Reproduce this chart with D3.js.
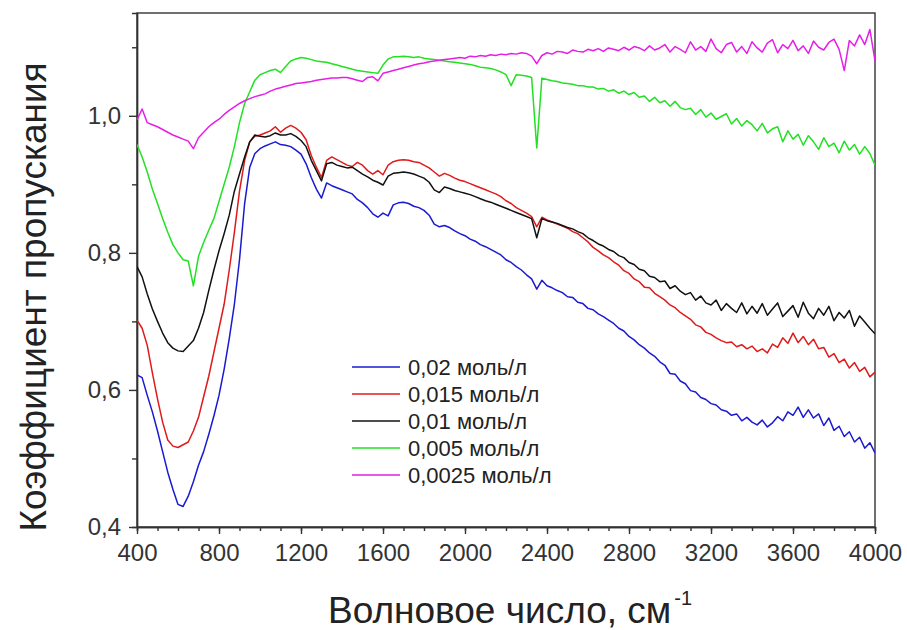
<!DOCTYPE html>
<html>
<head>
<meta charset="utf-8">
<script src="https://cdn.jsdelivr.net/npm/d3@7"></script>
<style>
  body { margin: 0; background: #fff; }
  svg text { font-family: "Liberation Sans", Arial, sans-serif; fill: #222; }
  .axis path, .axis line { stroke: #333; stroke-width: 1.4px; }
  .axis text { font-size: 24px; fill: #333; }
  .frame { fill: none; stroke: #333; stroke-width: 1.4px; }
  .spectrum { fill: none; stroke-width: 1.5px; stroke-linejoin: round; }
</style>
</head>
<body>
<div id="chart"></div>
<script>
// wavenumber grid, cm-1 (every 25 from 400 to 4000)
const wavenumbers = d3.range(400, 4001, 25);

const seriesLabels = ['0,02 моль/л', '0,015 моль/л', '0,01 моль/л', '0,005 моль/л', '0,0025 моль/л'];
const seriesColors = ['#1a1ad0', '#e01a1a', '#111111', '#22e022', '#e61ee6'];

// transmittance values
const conc002 = [
  0.622,0.618,0.592,0.568,0.540,0.510,0.480,0.455,0.433,0.430,0.445,0.466,0.490,0.510,0.535,0.562,0.592,0.630,0.675,0.725,
  0.790,0.872,0.925,0.945,0.952,0.956,0.959,0.962,0.958,0.957,0.955,0.950,0.944,0.930,0.910,0.893,0.880,0.902,0.898,0.895,
  0.892,0.889,0.886,0.878,0.873,0.866,0.857,0.852,0.858,0.854,0.870,0.873,0.874,0.872,0.868,0.866,0.862,0.855,0.842,0.838,
  0.840,0.837,0.832,0.828,0.825,0.820,0.817,0.812,0.809,0.805,0.801,0.797,0.790,0.786,0.780,0.775,0.768,0.762,0.747,0.760,
  0.752,0.749,0.745,0.742,0.736,0.735,0.728,0.726,0.719,0.717,0.711,0.707,0.702,0.697,0.690,0.686,0.678,0.673,0.666,0.661,
  0.654,0.649,0.641,0.636,0.624,0.623,0.613,0.609,0.599,0.597,0.589,0.586,0.580,0.578,0.571,0.569,0.563,0.565,0.555,0.560,
  0.553,0.549,0.556,0.546,0.552,0.561,0.555,0.568,0.563,0.575,0.560,0.571,0.559,0.565,0.548,0.559,0.541,0.547,0.532,0.539,
  0.524,0.531,0.515,0.523,0.508
];
const conc0015 = [
  0.702,0.690,0.665,0.625,0.587,0.553,0.527,0.518,0.516,0.520,0.524,0.540,0.560,0.590,0.620,0.655,0.690,0.725,0.775,0.830,
  0.890,0.935,0.962,0.970,0.972,0.975,0.978,0.984,0.976,0.982,0.986,0.982,0.976,0.965,0.942,0.925,0.910,0.935,0.940,0.936,
  0.932,0.928,0.926,0.932,0.928,0.920,0.915,0.920,0.914,0.928,0.933,0.935,0.936,0.935,0.933,0.932,0.928,0.924,0.918,0.912,
  0.916,0.913,0.909,0.906,0.904,0.901,0.898,0.895,0.892,0.889,0.886,0.882,0.876,0.872,0.866,0.862,0.858,0.853,0.838,0.852,
  0.848,0.845,0.842,0.839,0.836,0.831,0.828,0.822,0.816,0.808,0.803,0.797,0.793,0.787,0.782,0.774,0.770,0.762,0.758,0.750,
  0.749,0.741,0.736,0.731,0.724,0.720,0.713,0.708,0.703,0.695,0.692,0.684,0.681,0.676,0.672,0.669,0.670,0.663,0.666,0.660,
  0.664,0.656,0.660,0.654,0.667,0.662,0.676,0.668,0.683,0.669,0.678,0.666,0.674,0.660,0.662,0.648,0.653,0.640,0.645,0.632,
  0.640,0.627,0.633,0.619,0.626
];
const conc001 = [
  0.780,0.765,0.740,0.718,0.700,0.683,0.669,0.661,0.657,0.656,0.664,0.672,0.690,0.713,0.745,0.775,0.803,0.828,0.855,0.890,
  0.915,0.940,0.962,0.972,0.970,0.969,0.971,0.975,0.972,0.972,0.974,0.970,0.964,0.955,0.935,0.920,0.905,0.930,0.932,0.928,
  0.926,0.924,0.925,0.920,0.915,0.911,0.906,0.903,0.899,0.912,0.916,0.917,0.918,0.917,0.915,0.912,0.909,0.903,0.892,0.888,
  0.896,0.894,0.891,0.889,0.887,0.885,0.882,0.879,0.876,0.874,0.871,0.868,0.865,0.862,0.859,0.856,0.853,0.850,0.822,0.850,
  0.847,0.845,0.843,0.840,0.837,0.835,0.831,0.828,0.822,0.818,0.813,0.810,0.805,0.802,0.796,0.793,0.786,0.783,0.776,0.774,
  0.766,0.764,0.758,0.759,0.748,0.752,0.744,0.739,0.742,0.731,0.737,0.727,0.724,0.731,0.716,0.726,0.719,0.713,0.727,0.711,
  0.722,0.712,0.726,0.709,0.718,0.727,0.707,0.715,0.723,0.706,0.728,0.712,0.704,0.719,0.709,0.722,0.701,0.713,0.705,0.716,
  0.693,0.708,0.699,0.690,0.682
];
const conc0005 = [
  0.958,0.940,0.918,0.893,0.872,0.850,0.830,0.812,0.800,0.790,0.788,0.752,0.795,0.815,0.833,0.850,0.875,0.900,0.925,0.955,
  0.990,1.018,1.035,1.052,1.060,1.063,1.066,1.068,1.063,1.072,1.080,1.083,1.085,1.084,1.082,1.080,1.079,1.078,1.076,1.074,
  1.072,1.070,1.068,1.066,1.065,1.064,1.063,1.062,1.074,1.083,1.086,1.086,1.087,1.086,1.085,1.086,1.084,1.083,1.082,1.081,
  1.080,1.079,1.078,1.077,1.076,1.075,1.073,1.071,1.070,1.069,1.067,1.064,1.060,1.044,1.060,1.059,1.058,1.056,0.953,1.055,
  1.053,1.051,1.050,1.048,1.047,1.046,1.044,1.044,1.042,1.042,1.039,1.040,1.036,1.038,1.033,1.036,1.031,1.034,1.027,1.029,
  1.021,1.027,1.019,1.022,1.014,1.021,1.012,1.009,1.011,1.002,1.009,0.998,1.004,0.995,0.999,1.003,0.988,0.996,0.985,0.993,
  0.987,0.978,0.989,0.975,0.981,0.984,0.962,0.978,0.966,0.973,0.957,0.971,0.962,0.951,0.968,0.955,0.960,0.946,0.963,0.950,
  0.958,0.944,0.955,0.945,0.928
];
const conc00025 = [
  0.994,1.010,0.990,0.987,0.984,0.980,0.976,0.972,0.969,0.966,0.963,0.952,0.968,0.976,0.984,0.990,0.995,1.002,1.008,1.013,
  1.018,1.022,1.025,1.028,1.030,1.032,1.036,1.039,1.041,1.043,1.045,1.047,1.048,1.049,1.050,1.052,1.053,1.054,1.055,1.055,
  1.056,1.056,1.054,1.052,1.050,1.056,1.057,1.051,1.062,1.064,1.066,1.068,1.070,1.072,1.074,1.076,1.077,1.079,1.080,1.081,
  1.082,1.083,1.084,1.085,1.084,1.087,1.086,1.088,1.087,1.089,1.088,1.090,1.089,1.091,1.090,1.092,1.091,1.087,1.076,1.088,
  1.092,1.090,1.094,1.093,1.091,1.096,1.094,1.093,1.097,1.095,1.098,1.094,1.099,1.097,1.095,1.100,1.096,1.101,1.099,1.095,
  1.102,1.096,1.099,1.104,1.093,1.101,1.097,1.092,1.108,1.096,1.101,1.094,1.112,1.098,1.092,1.104,1.107,1.093,1.101,1.091,
  1.108,1.099,1.093,1.106,1.111,1.092,1.104,1.098,1.110,1.095,1.102,1.091,1.109,1.100,1.096,1.107,1.112,1.097,1.066,1.110,
  1.102,1.118,1.104,1.126,1.080
];

const xMajorTicks = [400, 800, 1200, 1600, 2000, 2400, 2800, 3200, 3600, 4000];
const xMinorTicks = d3.range(400, 4001, 100);
const yMajorTicks = [0.4, 0.6, 0.8, 1.0];
const yMinorTicks = [0.5, 0.7, 0.9, 1.1];

class SpectrumChart {

  constructor(_config, _series) {
    this.config = {
      parentElement: _config.parentElement,
      containerWidth: _config.containerWidth || 907,
      containerHeight: _config.containerHeight || 630,
      margin: _config.margin || {top: 13, right: 32, bottom: 103, left: 137},
      legendLeft: 352,
      legendTop: 367,
      legendRowHeight: 27
    }
    this.series = _series;
    this.initVis();
  }

  initVis() {
    let vis = this;

    vis.width = vis.config.containerWidth - vis.config.margin.left - vis.config.margin.right;
    vis.height = vis.config.containerHeight - vis.config.margin.top - vis.config.margin.bottom;

    vis.svg = d3.select(vis.config.parentElement).append('svg')
        .attr('width', vis.config.containerWidth)
        .attr('height', vis.config.containerHeight);

    vis.chart = vis.svg.append('g')
        .attr('transform', `translate(${vis.config.margin.left},${vis.config.margin.top})`);

    vis.xScale = d3.scaleLinear()
        .domain([400, 4000])
        .range([0, vis.width]);

    vis.yScale = d3.scaleLinear()
        .domain([0.4, 1.15])
        .range([vis.height, 0]);

    const comma = d => d3.format('.1f')(d).replace('.', ',');

    // minor ticks first, then the major ones on top
    vis.chart.append('g')
        .attr('class', 'axis')
        .attr('transform', `translate(0,${vis.height})`)
        .call(d3.axisBottom(vis.xScale).tickValues(xMinorTicks).tickSize(4).tickFormat(''));

    vis.chart.append('g')
        .attr('class', 'axis')
        .attr('transform', `translate(0,${vis.height})`)
        .call(d3.axisBottom(vis.xScale).tickValues(xMajorTicks).tickSize(7).tickPadding(10)
          .tickFormat(d3.format('d')).tickSizeOuter(0));

    vis.chart.append('g')
        .attr('class', 'axis')
        .call(d3.axisLeft(vis.yScale).tickValues(yMinorTicks).tickSize(5).tickFormat(''));

    vis.chart.append('g')
        .attr('class', 'axis')
        .call(d3.axisLeft(vis.yScale).tickValues(yMajorTicks).tickSize(8).tickPadding(8)
          .tickFormat(comma).tickSizeOuter(0));

    vis.chart.append('rect')
        .attr('class', 'frame')
        .attr('width', vis.width)
        .attr('height', vis.height);

    vis.line = d3.line()
        .x((d, i) => vis.xScale(wavenumbers[i]))
        .y(d => vis.yScale(d));

    vis.chart.append('defs').append('clipPath')
        .attr('id', 'plot-clip')
      .append('rect')
        .attr('width', vis.width)
        .attr('height', vis.height);

    vis.chart.append('g')
        .attr('clip-path', 'url(#plot-clip)')
      .selectAll('path')
        .data(vis.series)
        .join('path')
        .attr('class', 'spectrum')
        .attr('stroke', d => d.color)
        .attr('d', d => vis.line(d.values));

    // legend
    const legend = vis.svg.append('g')
        .attr('transform', `translate(${vis.config.legendLeft},${vis.config.legendTop})`);

    const rows = legend.selectAll('g')
        .data(vis.series)
        .join('g')
        .attr('transform', (d, i) => `translate(0,${i * vis.config.legendRowHeight})`);

    rows.append('line')
        .attr('x2', 48)
        .attr('stroke', d => d.color)
        .attr('stroke-width', 1.5);

    rows.append('text')
        .attr('x', 56)
        .attr('dy', '0.35em')
        .style('font-size', '22px')
        .text(d => d.label);

    // axis titles
    const xTitle = vis.svg.append('text')
        .attr('x', 328)
        .attr('y', 623)
        .style('font-size', '37px');
    xTitle.append('tspan').text('Волновое число, см');
    xTitle.append('tspan')
        .attr('dy', -18)
        .attr('dx', 3)
        .style('font-size', '20px')
        .text('-1');

    vis.svg.append('text')
        .attr('transform', `translate(46,297) rotate(-90)`)
        .attr('text-anchor', 'middle')
        .style('font-size', '37px')
        .text('Коэффициент пропускания');
  }
}

const series = [conc002, conc0015, conc001, conc0005, conc00025].map((values, i) => ({
  label: seriesLabels[i],
  color: seriesColors[i],
  values: values
}));

new SpectrumChart({parentElement: '#chart'}, series);
</script>
</body>
</html>
